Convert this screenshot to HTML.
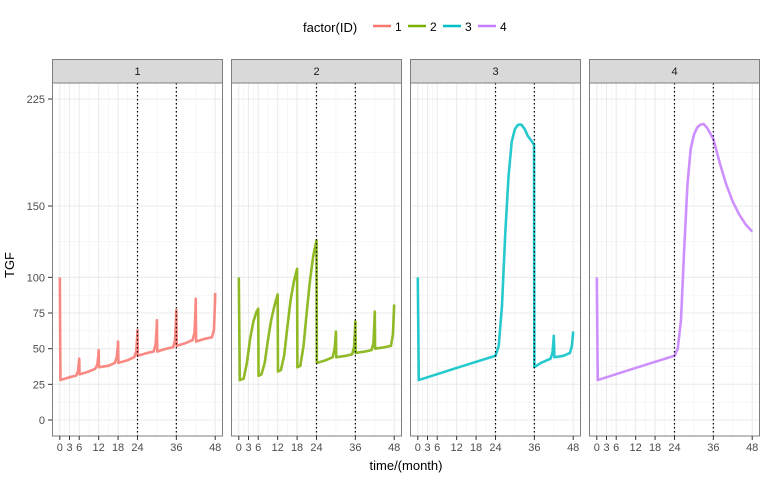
<!DOCTYPE html>
<html><head><meta charset="utf-8"><style>
body{margin:0;background:#fff;}
svg text{font-family:"Liberation Sans",Arial,sans-serif;}
</style></head><body>
<svg id="chart" width="768" height="480" xmlns="http://www.w3.org/2000/svg">
<g id="legend">
<text x="303" y="32" font-size="13" fill="#000">factor(ID)</text>
</g>
<g id="panels"></g>
<text x="14" y="265" font-size="13" text-anchor="middle" transform="rotate(-90 14 265)">TGF</text>
<text x="406" y="470" font-size="13" text-anchor="middle">time/(month)</text>
</svg>
<script>
const ids = ["1","2","3","4"];
const colors = ["#F8766D","#7CAE00","#00BFC4","#C77CFF"];
const xBreaks = [0,3,6,12,18,24,36,48];
const xMinor = [1.5,4.5,9,15,21,30,42];
const yBreaks = [0,25,50,75,100,150,225];
const yMinor = [12.5,37.5,62.5,87.5,125,187.5];
const vlines = [24,36];
const t1 = [0,0.2,3,5,5.6,5.9,6,6.1,9,11,11.6,11.9,12,12.1,15,17,17.6,17.9,18,18.1,21,23,23.6,23.9,24,24.1,27,29,29.6,29.9,30,30.1,33,35,35.6,35.9,36,36.1,39,41,41.6,41.9,42,42.1,45,47,47.6,47.9,48];
const v1 = [100,28,30,31,34,40,43,32,34,36,39,45,49,37,38,40,44,51,55,40,42,44,48,58,63,45,47,48,53,64,70,48,50,51,56,70,77,52,54,56,61,77,85,55,57,58,63,80,89];
const t2 = [0,0.3,1.5,2.5,3.5,4.5,5.5,6,6.1,7,8,9,10,11,12,12.1,13,14,15,16,17,18,18.1,19,20,21,22,23,24,24.1,27,29,29.6,29.9,30,30.1,33,35,35.6,35.9,36,36.1,39,41,41.6,41.9,42,42.1,45,47,47.6,48];
const v2 = [100,28,29,40,57,69,76,78,31,32,40,56,70,80,88,34,35,45,65,84,97,106,37,38,52,76,98,115,126,40,42,44,50,58,62,44,45,46,51,63,69,47,48,49,54,69,76,50,51,52,60,81];
const t3 = [0,0.3,12,24,25,26,27,28,29,30,31,32,33,34,35,35.9,36,38,41,41.6,41.9,42,42.2,45,47,47.6,48];
const v3 = [100,28,36.5,45,52,80,130,170,195,204,207,207,204,199,196,193,37,40,43,47,55,59,44,45,47,52,62];
const t4 = [0,0.3,12,24,25,26,27,28,29,30,31,32,33,34,36,38,40,42,44,46,48];
const v4 = [100,28,36.5,45,50,70,120,165,190,200,205,207,207.5,205,197,180,165,153,144,137,132];
const series = [[t1,v1],[t2,v2],[t3,v3],[t4,v4]];

const NS="http://www.w3.org/2000/svg";
const panelLeft=[52,231,410,589], pw=171, pTop=83, pBot=436, stripTop=59;
const yS=v=>420-v*(321/225);
function el(tag,attrs,parent){const e=document.createElementNS(NS,tag);for(const k in attrs)e.setAttribute(k,attrs[k]);parent.appendChild(e);return e;}
const panels=document.getElementById('panels');
ids.forEach((id,i)=>{
  const x0=panelLeft[i];
  const xS=t=>x0+7.8+t*(pw-15.6)/48;
  const g=el('g',{},panels);
  
  
  el('rect',{x:x0,y:pTop,width:pw,height:pBot-pTop,fill:'#fff'},g);
  yMinor.forEach(v=>el('line',{x1:x0,x2:x0+pw,y1:yS(v),y2:yS(v),stroke:'#f2f2f2','stroke-width':0.6},g));
  xMinor.forEach(t=>el('line',{x1:xS(t),x2:xS(t),y1:pTop,y2:pBot,stroke:'#f2f2f2','stroke-width':0.6},g));
  yBreaks.forEach(v=>el('line',{x1:x0,x2:x0+pw,y1:yS(v),y2:yS(v),stroke:'#ebebeb','stroke-width':1.1},g));
  xBreaks.forEach(t=>el('line',{x1:xS(t),x2:xS(t),y1:pTop,y2:pBot,stroke:'#ebebeb','stroke-width':1.1},g));
  const [ts,vs]=series[i];
  const line=el('polyline',{points:ts.map((t,k)=>xS(t)+','+yS(vs[k])).join(' '),fill:'none',stroke:colors[i],'stroke-width':2.6,'stroke-linejoin':'round','stroke-opacity':0.85},g);
  
  
  vlines.forEach(t=>{const l=el('line',{x1:xS(t),x2:xS(t),y1:pTop,y2:pBot,stroke:'#000','stroke-width':1.2,'stroke-dasharray':'1.5,2.5'},g);
    
    });
  el('rect',{x:x0+0.5,y:pTop,width:pw-1,height:pBot-pTop,fill:'none',stroke:'#7f7f7f','stroke-width':1},g);
  const s=el('rect',{x:x0+0.5,y:stripTop+0.5,width:pw-1,height:pTop-stripTop-0.5,fill:'#d9d9d9',stroke:'#7f7f7f','stroke-width':1},g);
  
  
  const st=el('text',{x:x0+pw/2,y:stripTop+16,'font-size':11,'text-anchor':'middle',fill:'#1a1a1a'},g);st.textContent=id;
  xBreaks.forEach(t=>{el('line',{x1:xS(t),x2:xS(t),y1:pBot,y2:pBot+4,stroke:'#333','stroke-width':1},g);
    const tx=el('text',{x:xS(t),y:pBot+15,'font-size':11,'text-anchor':'middle',fill:'#4d4d4d'},g);tx.textContent=t;
    
    });
  if(i===0){yBreaks.forEach(v=>{el('line',{x1:x0-4,x2:x0,y1:yS(v),y2:yS(v),stroke:'#333','stroke-width':1},g);
    const tx=el('text',{x:x0-7,y:yS(v)+4,'font-size':11,'text-anchor':'end',fill:'#4d4d4d'},g);tx.textContent=v;
    
    });}
});
const lg=document.getElementById('legend');
const lx=[373,408,443,478];
ids.forEach((id,i)=>{
  const g=el('g',{},lg);
  
  
  el('line',{x1:lx[i],x2:lx[i]+18,y1:26,y2:26,stroke:colors[i],'stroke-width':2.6},g);
  const t=el('text',{x:lx[i]+22,y:31,'font-size':12,fill:'#000'},g);t.textContent=id;
});
</script>
</body></html>
